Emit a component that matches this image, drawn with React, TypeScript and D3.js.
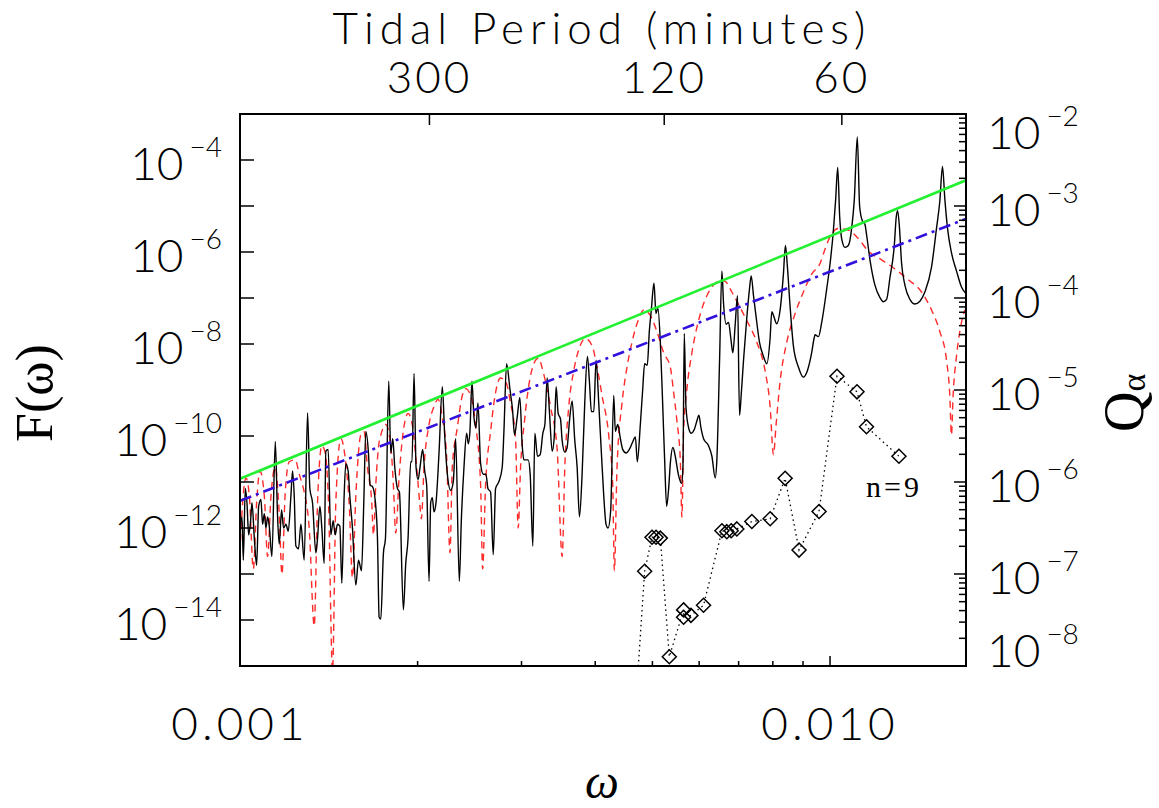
import React from 'react';
import * as d3 from 'd3';

const W = 1159;
const H = 808;
const PX0 = 240;
const PX1 = 966;
const PY0 = 114;
const PY1 = 666;

// axis domains
const omegaDomain: [number, number] = [0.001, 0.017];
const fDomain: [number, number] = [1e-15, 1e-3];
const qDomain: [number, number] = [1e-8, 1e-2];

// ticks
const bottomMajor = [0.001, 0.01];
const bottomMinor = [0.002, 0.003, 0.004, 0.005, 0.006, 0.007, 0.008, 0.009];
const bottomLabels = ['0.001', '0.010'];
const topPeriods = [300, 120, 60]; // minutes
const leftTickExps = [-15, -14, -13, -12, -11, -10, -9, -8, -7, -6, -5, -4, -3];
const leftLabelExps = [-4, -6, -8, -10, -12, -14];
const rightLabelExps = [-2, -3, -4, -5, -6, -7, -8];

// series, stored as [log10(omega), log10(value)]
const blackSpectrum: [number, number][] = [
  [-3.0, -12.0], [-2.9966, -11.76], [-2.9944, -12.7], [-2.991, -11.14], [-2.9882, -11.45], [-2.9853, -12.15],
  [-2.982, -11.84], [-2.9797, -11.45], [-2.9757, -12.23], [-2.9718, -12.81], [-2.9684, -11.53], [-2.9645, -11.38],
  [-2.9617, -11.92], [-2.9588, -11.69], [-2.956, -12.0], [-2.9532, -11.76], [-2.9504, -11.96], [-2.9459, -12.62],
  [-2.9402, -10.12], [-2.9363, -11.76], [-2.9335, -12.35], [-2.9295, -11.61], [-2.9262, -12.0], [-2.9222, -11.92],
  [-2.9182, -12.07], [-2.9137, -11.3], [-2.9109, -10.76], [-2.9081, -11.3], [-2.9053, -12.39], [-2.9008, -12.45],
  [-2.8968, -11.92], [-2.8912, -12.7], [-2.8855, -9.5], [-2.8816, -11.14], [-2.8771, -11.45], [-2.8714, -12.54],
  [-2.8686, -12.23], [-2.8646, -11.53], [-2.8613, -12.0], [-2.8573, -12.77], [-2.8545, -10.33], [-2.8506, -10.29],
  [-2.8461, -12.15], [-2.8421, -11.84], [-2.8387, -12.15], [-2.8348, -11.92], [-2.8308, -11.96], [-2.8274, -13.2],
  [-2.8235, -11.3], [-2.8206, -10.6], [-2.8167, -10.76], [-2.8139, -11.3], [-2.8094, -12.0], [-2.8037, -13.24],
  [-2.7992, -12.7], [-2.7941, -12.93], [-2.7902, -11.45], [-2.7868, -9.9], [-2.7823, -10.37], [-2.7794, -11.07],
  [-2.7755, -11.1], [-2.771, -11.38], [-2.767, -12.23], [-2.7642, -13.94], [-2.7614, -13.98],
  [-2.7569, -12.54], [-2.7535, -12.23], [-2.7479, -8.81], [-2.7445, -10.37], [-2.7411, -10.06], [-2.7377, -10.68],
  [-2.7332, -11.14], [-2.7298, -11.22], [-2.7231, -13.78], [-2.7191, -12.77], [-2.7152, -12.23], [-2.7107, -10.56],
  [-2.7085, -10.56], [-2.705, -8.64], [-2.7016, -10.68], [-2.6982, -10.95], [-2.6949, -10.68], [-2.6904, -10.29],
  [-2.687, -10.76], [-2.6836, -11.07], [-2.6796, -13.16], [-2.6768, -11.45], [-2.674, -11.34], [-2.6712, -11.65],
  [-2.6678, -11.45], [-2.6627, -10.37], [-2.6571, -8.93], [-2.6531, -9.98], [-2.6486, -10.83], [-2.643, -11.18],
  [-2.6385, -10.99], [-2.6345, -10.06], [-2.6283, -13.16], [-2.6249, -11.84], [-2.6204, -10.68], [-2.6159, -9.94],
  [-2.6131, -10.17], [-2.6103, -9.9], [-2.6069, -8.81], [-2.6035, -9.59], [-2.6001, -9.82], [-2.5967, -9.28],
  [-2.5922, -10.6], [-2.5877, -10.83], [-2.5832, -10.83], [-2.5798, -11.14], [-2.5753, -11.22], [-2.5708, -12.58],
  [-2.5668, -11.14], [-2.5612, -10.99], [-2.5556, -10.68], [-2.5527, -9.9], [-2.5482, -8.43], [-2.5426, -8.97],
  [-2.5381, -9.43], [-2.5347, -9.98], [-2.5302, -9.59], [-2.5257, -9.16], [-2.5217, -10.21], [-2.5189, -10.52],
  [-2.5161, -10.52], [-2.5116, -10.52], [-2.5082, -10.83], [-2.5037, -12.39], [-2.5003, -9.94], [-2.4958, -10.44],
  [-2.4913, -10.41], [-2.4867, -9.94], [-2.4833, -9.75], [-2.4794, -8.74], [-2.4754, -9.51], [-2.4709, -10.33],
  [-2.4676, -10.06], [-2.4642, -8.93], [-2.4608, -9.51], [-2.4568, -9.63], [-2.454, -10.1], [-2.4495, -10.35],
  [-2.4456, -10.25], [-2.4416, -9.67], [-2.4371, -9.24], [-2.4326, -10.1], [-2.4286, -10.68], [-2.4247, -11.76],
  [-2.4202, -10.83], [-2.4157, -9.28], [-2.4112, -8.27], [-2.4078, -8.81], [-2.4044, -9.47], [-2.4004, -9.47],
  [-2.3965, -8.35], [-2.392, -9.28], [-2.3875, -10.37], [-2.3835, -11.3], [-2.3796, -11.92], [-2.3762, -12.0],
  [-2.3717, -11.61], [-2.3666, -9.12], [-2.3638, -9.9], [-2.3598, -9.75], [-2.3553, -10.06], [-2.3514, -10.29],
  [-2.3457, -10.37], [-2.3401, -10.29], [-2.3345, -10.13], [-2.3299, -10.02], [-2.3266, -10.56], [-2.3215, -9.75],
  [-2.3176, -9.01], [-2.3142, -8.43], [-2.3097, -8.46], [-2.3063, -7.73], [-2.3029, -7.26], [-2.2984, -6.68],
  [-2.295, -7.34], [-2.2917, -7.22], [-2.2876, -7.96], [-2.2837, -9.28], [-2.2803, -10.52], [-2.2769, -11.53],
  [-2.2735, -11.14], [-2.2707, -10.6], [-2.2662, -10.25], [-2.2623, -10.44], [-2.2572, -10.83], [-2.2516, -11.03],
  [-2.2493, -10.68], [-2.247, -7.77], [-2.2442, -9.36], [-2.2397, -9.82], [-2.2352, -9.94], [-2.2301, -9.86],
  [-2.2256, -9.67], [-2.2222, -9.55], [-2.2188, -9.82], [-2.2143, -10.06], [-2.2059, -10.21], [-2.2002, -10.44],
  [-2.1946, -10.91], [-2.1918, -10.52], [-2.1872, -8.35], [-2.1833, -6.41], [-2.1805, -7.11], [-2.176, -7.57],
  [-2.172, -7.53], [-2.1681, -7.88], [-2.1647, -8.19], [-2.1607, -7.57], [-2.1568, -6.95], [-2.1534, -9.55],
  [-2.1506, -9.12], [-2.1466, -8.35], [-2.141, -7.42], [-2.1365, -6.8], [-2.1336, -6.52], [-2.1297, -6.95],
  [-2.1252, -7.42], [-2.1196, -7.96], [-2.1128, -8.27], [-2.1072, -8.43], [-2.1016, -7.88], [-2.0987, -7.3],
  [-2.0948, -7.42], [-2.0903, -7.56], [-2.0846, -7.26], [-2.079, -6.48], [-2.0756, -5.86], [-2.0722, -6.33],
  [-2.0677, -7.18], [-2.0621, -8.04], [-2.0536, -8.5], [-2.0452, -8.72], [-2.0384, -8.58], [-2.0311, -8.19],
  [-2.0271, -7.88], [-2.0254, -7.8], [-2.0197, -7.84], [-2.0141, -7.53], [-2.0056, -6.8], [-1.9999, -6.25],
  [-1.9944, -5.55], [-1.9904, -4.85], [-1.987, -4.16], [-1.9836, -5.24], [-1.9803, -5.71], [-1.9746, -5.9],
  [-1.969, -5.86], [-1.9633, -5.48], [-1.9588, -4.85], [-1.9538, -3.5], [-1.9498, -5.01], [-1.9453, -5.32],
  [-1.9408, -5.4], [-1.938, -5.63], [-1.9323, -6.17], [-1.9239, -6.72], [-1.9154, -6.99], [-1.9097, -7.08],
  [-1.9041, -7.03], [-1.8985, -6.56], [-1.8911, -5.86], [-1.8878, -5.24], [-1.8855, -5.1], [-1.8827, -5.4],
  [-1.8787, -6.25], [-1.8731, -6.72], [-1.8646, -7.03], [-1.8562, -7.13], [-1.8477, -7.07], [-1.8393, -6.87],
  [-1.828, -6.33], [-1.8195, -5.48], [-1.8139, -4.89], [-1.8094, -4.14], [-1.8054, -4.85], [-1.8009, -5.48],
  [-1.7941, -6.02], [-1.7857, -6.41], [-1.7772, -6.76], [-1.7696, -6.9],
];

const redSpectrum: [number, number][] = [
  [-3.0011, -12.81], [-2.9955, -11.45], [-2.9898, -10.91], [-2.9842, -11.3], [-2.9774, -12.89], [-2.9718, -11.45],
  [-2.9662, -10.76], [-2.9588, -11.3], [-2.9532, -12.62], [-2.9475, -11.3], [-2.9402, -10.68], [-2.9335, -11.69],
  [-2.9289, -13.01], [-2.9233, -11.22], [-2.9165, -10.56], [-2.9064, -10.52], [-2.8996, -10.83], [-2.8912, -11.22],
  [-2.8827, -12.0], [-2.8742, -14.13], [-2.8686, -11.45], [-2.8613, -10.21], [-2.8556, -10.37], [-2.85, -11.45],
  [-2.8432, -15.1], [-2.8376, -11.45], [-2.8291, -10.06], [-2.8206, -10.6], [-2.815, -11.45], [-2.8094, -13.08],
  [-2.8037, -11.3], [-2.7953, -9.98], [-2.7897, -9.9], [-2.784, -10.68], [-2.7767, -11.45], [-2.7738, -12.15],
  [-2.7699, -11.07], [-2.7642, -10.13], [-2.7614, -9.98], [-2.753, -9.75], [-2.7445, -10.21], [-2.74, -11.07],
  [-2.7361, -12.11], [-2.7304, -10.91], [-2.7248, -10.06], [-2.7152, -9.51], [-2.7081, -9.75], [-2.7005, -10.68],
  [-2.6949, -11.53], [-2.6926, -11.8], [-2.6881, -10.68], [-2.6796, -9.75], [-2.6712, -9.36], [-2.6644, -9.2],
  [-2.6571, -9.59], [-2.6498, -10.44], [-2.6441, -12.54], [-2.6402, -10.68], [-2.6317, -9.82], [-2.6232, -9.12],
  [-2.6176, -8.97], [-2.6091, -9.12], [-2.6007, -9.75], [-2.5922, -11.07], [-2.5888, -12.89], [-2.5838, -11.07],
  [-2.5753, -9.9], [-2.5668, -9.05], [-2.5584, -8.74], [-2.5499, -8.81], [-2.5415, -9.28], [-2.533, -10.06],
  [-2.5285, -12.0], [-2.5245, -10.68], [-2.5178, -9.67], [-2.5104, -8.89], [-2.502, -8.43], [-2.4946, -8.31],
  [-2.4851, -8.66], [-2.4738, -9.36], [-2.4625, -10.29], [-2.454, -12.62], [-2.4495, -10.68], [-2.4428, -9.36],
  [-2.4343, -8.58], [-2.4258, -8.12], [-2.4146, -7.88], [-2.4033, -8.04], [-2.3948, -8.5], [-2.3864, -9.12],
  [-2.3751, -9.98], [-2.3683, -11.07], [-2.3655, -12.93], [-2.361, -10.68], [-2.3525, -9.28], [-2.344, -8.5],
  [-2.3356, -7.96], [-2.3243, -7.46], [-2.3158, -7.26], [-2.3046, -7.38], [-2.2933, -7.73], [-2.282, -8.19],
  [-2.2707, -8.5], [-2.2651, -9.05], [-2.2595, -9.67], [-2.2538, -10.52], [-2.251, -11.76], [-2.2482, -9.9],
  [-2.2425, -8.97], [-2.2341, -8.19], [-2.2228, -7.49], [-2.2087, -6.95], [-2.1975, -6.72], [-2.1862, -6.62],
  [-2.1777, -6.64], [-2.1664, -6.87], [-2.1551, -7.14], [-2.1411, -7.49], [-2.1241, -7.96], [-2.1101, -8.58],
  [-2.1015, -9.36], [-2.0959, -10.41], [-2.0914, -9.75], [-2.0846, -8.81], [-2.0733, -7.96], [-2.0592, -7.34],
  [-2.0451, -6.87], [-2.0311, -6.48], [-2.0169, -6.25], [-2.0085, -5.94], [-2.0, -5.67], [-1.9859, -5.49],
  [-1.9718, -5.51], [-1.952, -5.71], [-1.9351, -5.98], [-1.9126, -6.17], [-1.89, -6.37], [-1.8675, -6.6],
  [-1.8449, -6.87], [-1.828, -7.26], [-1.8139, -7.73], [-1.8026, -8.35], [-1.797, -9.12], [-1.7942, -9.98],
  [-1.7914, -9.12], [-1.7857, -8.27], [-1.7801, -7.73], [-1.7716, -7.26],
];

const greenLine: [number, number][] = [[-3.0, -10.93], [-1.7696, -4.44]];
const blueLine: [number, number][] = [[-3.0, -11.41], [-1.7696, -5.28]];

// Q_alpha points (right axis), [log10(omega), log10(Q)]
const qPoints: [number, number][] = [
  [-2.3311, -8.6], [-2.3142, -6.97], [-2.3017, -6.6], [-2.2949, -6.6], [-2.2876, -6.61], [-2.2724, -7.9],
  [-2.2482, -7.39], [-2.2482, -7.47], [-2.2357, -7.45], [-2.2144, -7.34], [-2.1832, -6.53], [-2.1749, -6.54],
  [-2.1675, -6.53], [-2.1579, -6.51], [-2.1325, -6.43], [-2.1015, -6.4], [-2.0761, -5.96], [-2.0525, -6.74],
  [-2.0186, -6.32], [-1.9882, -4.85], [-1.9543, -5.02], [-1.9382, -5.4], [-1.8832, -5.72],
];
const nLabel = 'n=9';

const SANS = "Lato, 'Open Sans', 'DejaVu Sans', sans-serif";
const SERIF = "'Liberation Serif', 'DejaVu Serif', serif";

export default function App() {
  const x = d3.scaleLog().domain(omegaDomain).range([PX0, PX1]);
  const yL = d3.scaleLog().domain(fDomain).range([PY1, PY0]);
  const yR = d3.scaleLog().domain(qDomain).range([PY1, PY0]);

  const lineL = d3
    .line<[number, number]>()
    .x((d) => x(10 ** d[0]))
    .y((d) => yL(10 ** d[1]));
  const lineLSmooth = d3
    .line<[number, number]>()
    .x((d) => x(10 ** d[0]))
    .y((d) => yL(10 ** d[1]))
    .curve(d3.curveMonotoneX);
  const lineR = d3
    .line<[number, number]>()
    .x((d) => x(10 ** d[0]))
    .y((d) => yR(10 ** d[1]));

  const periodToOmega = (p: number) => (2 * Math.PI) / (10 * p);

  const rightMinor: number[] = [];
  for (let e = -8; e < -2; e++) {
    for (let m = 2; m <= 9; m++) rightMinor.push(m * 10 ** e);
  }

  const expLabel = (e: number) => '\u2212' + Math.abs(e);

  return (
    <svg
      width={W}
      height={H}
      style={{ position: 'absolute', left: 0, top: 0, display: 'block', background: '#fff' }}
    >
      <defs>
        <clipPath id="plotClip">
          <rect x={PX0} y={PY0} width={PX1 - PX0} height={PY1 - PY0} />
        </clipPath>
      </defs>
      <rect x={0} y={0} width={W} height={H} fill="#fff" />

      <g clipPath="url(#plotClip)" fill="none">
        <path d={lineLSmooth(redSpectrum) || ''} stroke="#ff2a2a" strokeWidth={1.4} strokeDasharray="7,5" />
        <path d={lineLSmooth(blackSpectrum) || ''} stroke="#000" strokeWidth={1.4} />
        <path d={lineL(greenLine) || ''} stroke="#22f030" strokeWidth={2.6} />
        <path d={lineL(blueLine) || ''} stroke="#3311dd" strokeWidth={2.6} strokeDasharray="12,5,3,5" />
        <path d={lineR(qPoints) || ''} stroke="#000" strokeWidth={1.3} strokeDasharray="1.5,3.5" />
        {qPoints.map((d, i) => (
          <path
            key={i}
            transform={`translate(${x(10 ** d[0])},${yR(10 ** d[1])})`}
            d="M0,-7L7,0L0,7L-7,0Z"
            fill="none"
            stroke="#000"
            strokeWidth={1.5}
          />
        ))}
      </g>

      <text x={866} y={497} fontFamily={SERIF} fontSize={30} letterSpacing={3} fill="#000">
        {nLabel}
      </text>

      {/* frame */}
      <rect x={PX0} y={PY0} width={PX1 - PX0} height={PY1 - PY0} fill="none" stroke="#000" strokeWidth={2} />

      {/* bottom ticks */}
      {bottomMajor.map((v) => (
        <line key={'bM' + v} x1={x(v)} x2={x(v)} y1={PY1} y2={PY1 - 10} stroke="#000" strokeWidth={1.5} />
      ))}
      {bottomMinor.map((v) => (
        <line key={'bm' + v} x1={x(v)} x2={x(v)} y1={PY1} y2={PY1 - 5} stroke="#000" strokeWidth={1.5} />
      ))}
      {bottomMajor.map((v, i) => (
        <text
          key={'bl' + v}
          x={x(v)}
          y={740}
          textAnchor="middle"
          fontFamily={SANS}
          fontWeight={300}
          fontSize={46}
          letterSpacing={4}
          fill="#000"
        >
          {bottomLabels[i]}
        </text>
      ))}

      {/* top ticks */}
      {topPeriods.map((p) => (
        <line
          key={'t' + p}
          x1={x(periodToOmega(p))}
          x2={x(periodToOmega(p))}
          y1={PY0}
          y2={PY0 + 11}
          stroke="#000"
          strokeWidth={1.5}
        />
      ))}
      {topPeriods.map((p) => (
        <text
          key={'tl' + p}
          x={x(periodToOmega(p))}
          y={93}
          textAnchor="middle"
          fontFamily={SANS}
          fontWeight={300}
          fontSize={44}
          letterSpacing={3}
          fill="#000"
        >
          {String(p)}
        </text>
      ))}
      <text
        x={602}
        y={44}
        textAnchor="middle"
        fontFamily={SANS}
        fontWeight={300}
        fontSize={44}
        letterSpacing={6}
        fill="#000"
      >
        Tidal Period (minutes)
      </text>

      {/* left ticks */}
      {leftTickExps.map((e) => (
        <line key={'l' + e} x1={PX0} x2={PX0 + 14} y1={yL(10 ** e)} y2={yL(10 ** e)} stroke="#000" strokeWidth={1.5} />
      ))}
      {leftLabelExps.map((e) => {
        const c = yL(10 ** e) + 3;
        return (
          <text key={'ll' + e} x={222} y={c + 16.5} textAnchor="end" fontFamily={SANS} fontWeight={300} fontSize={46} fill="#000">
            10
            <tspan dx={6} dy={-22.5} fontSize={28}>
              {expLabel(e)}
            </tspan>
          </text>
        );
      })}

      {/* right ticks */}
      {rightLabelExps.map((e) => (
        <line key={'r' + e} x1={PX1} x2={PX1 - 12} y1={yR(10 ** e)} y2={yR(10 ** e)} stroke="#000" strokeWidth={1.5} />
      ))}
      {rightMinor.map((v, i) => (
        <line key={'rm' + i} x1={PX1} x2={PX1 - 7} y1={yR(v)} y2={yR(v)} stroke="#000" strokeWidth={1.5} />
      ))}
      {rightLabelExps.map((e) => {
        let c = yR(10 ** e) + 3;
        if (e === -2) c = yR(10 ** e) + 18;
        if (e === -8) c = yR(10 ** e) - 16;
        return (
          <text key={'rl' + e} x={987} y={c + 16.5} textAnchor="start" fontFamily={SANS} fontWeight={300} fontSize={46} fill="#000">
            10
            <tspan dx={6} dy={-22.5} fontSize={28}>
              {expLabel(e)}
            </tspan>
          </text>
        );
      })}

      {/* axis titles */}
      <text
        transform="translate(52,393) rotate(-90)"
        textAnchor="middle"
        fontFamily={SERIF}
        fontSize={52}
        fill="#000"
      >
        F(ω)
      </text>
      <text x={602} y={798} textAnchor="middle" fontFamily={SERIF} fontStyle="italic" fontSize={48} fill="#000">
        ω
      </text>
      <text transform="translate(1143,432) rotate(-90)" textAnchor="start" fontFamily={SERIF} fontSize={56} fill="#000">
        Q
        <tspan dy={2} fontSize={34}>
          α
        </tspan>
      </text>
    </svg>
  );
}
